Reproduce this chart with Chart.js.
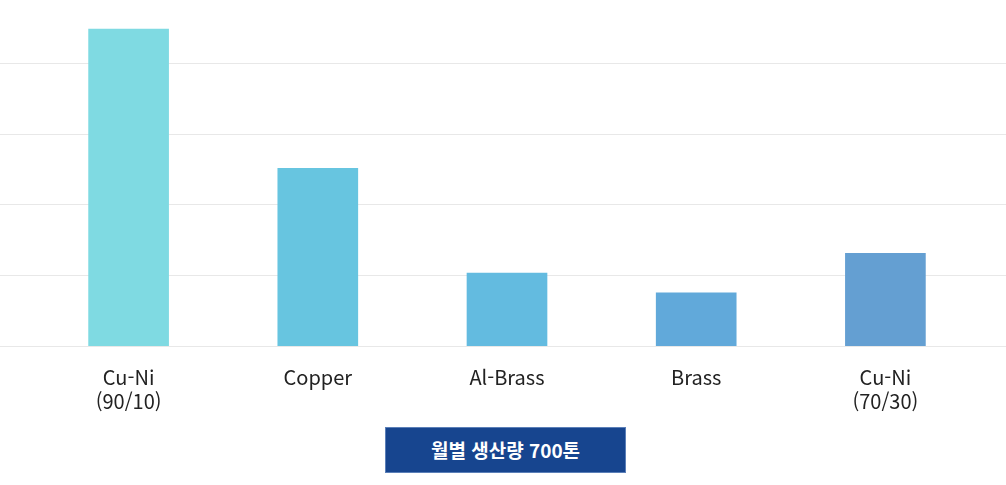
<!DOCTYPE html>
<html lang="ko">
<head>
<meta charset="utf-8">
<script src="https://cdn.jsdelivr.net/npm/chart.js@4.4.1/dist/chart.umd.min.js"></script>
<style>
  html, body { margin: 0; padding: 0; background: #fff; }
  #wrap { position: relative; width: 1006px; height: 485px; }
  #total {
    position: absolute; left: 385px; top: 427px; width: 241px; height: 46px;
    background: #17458f; color: #fff; box-sizing: border-box; border: 1px solid #5b7fb8;
    font: bold 19px "Noto Sans CJK KR", sans-serif; line-height: 44px; text-align: center;
  }
</style>
</head>
<body>
<div id="wrap">
  <div style="position:absolute;left:0;top:0;width:1006px;height:439px;">
    <canvas id="prodChart"></canvas>
  </div>
  <div id="total">월별 생산량 700톤</div>
</div>
<script>
/* monthly production share by alloy */
const CATEGORIES = [['Cu-Ni', '(90/10)'], 'Copper', 'Al-Brass', 'Brass', ['Cu-Ni', '(70/30)']];
const SHARE      = [44.8, 25.1, 10.3, 7.5, 13.1];
const BAR_COLORS = ['#7fdae2', '#67c5e0', '#63bbe0', '#61a9da', '#649fd2'];
const GRID_STEP  = 10;

Chart.defaults.font.family = '"Noto Sans CJK KR", "Noto Sans", sans-serif';

// grid lines run across the whole canvas, not just the chart area
const fullGrid = {
  id: 'fullGrid',
  beforeDatasetsDraw(chart) {
    const { ctx, scales: { y } } = chart;
    ctx.save();
    ctx.strokeStyle = '#e8e8e8';
    ctx.lineWidth = 1;
    y.ticks.forEach(t => {
      const py = Math.round(y.getPixelForValue(t.value)) + 0.5;
      ctx.beginPath();
      ctx.moveTo(0, py);
      ctx.lineTo(chart.width, py);
      ctx.stroke();
    });
    ctx.restore();
  }
};

new Chart(document.getElementById('prodChart'), {
  type: 'bar',
  data: {
    labels: CATEGORIES,
    datasets: [{
      data: SHARE,
      backgroundColor: BAR_COLORS,
      borderWidth: 0,
      barThickness: 80,
    }]
  },
  options: {
    responsive: true,
    maintainAspectRatio: false,
    animation: false,
    layout: { padding: { left: 34, right: 26, top: 0, bottom: 7 } },
    plugins: {
      legend: { display: false },
      tooltip: { enabled: false }
    },
    scales: {
      x: {
        grid: { display: false, drawTicks: false },
        border: { display: false },
        ticks: {
          color: '#222',
          padding: 19,
          font: { size: 20, lineHeight: 1.2 },
          maxRotation: 0,
          autoSkip: false
        }
      },
      y: {
        display: false,
        min: 0, max: 48.9,
        ticks: { stepSize: GRID_STEP },
        afterBuildTicks: axis => {
          axis.ticks = axis.ticks.filter(t => t.value % GRID_STEP === 0);
        }
      }
    }
  },
  plugins: [fullGrid]
});
</script>
</body>
</html>
